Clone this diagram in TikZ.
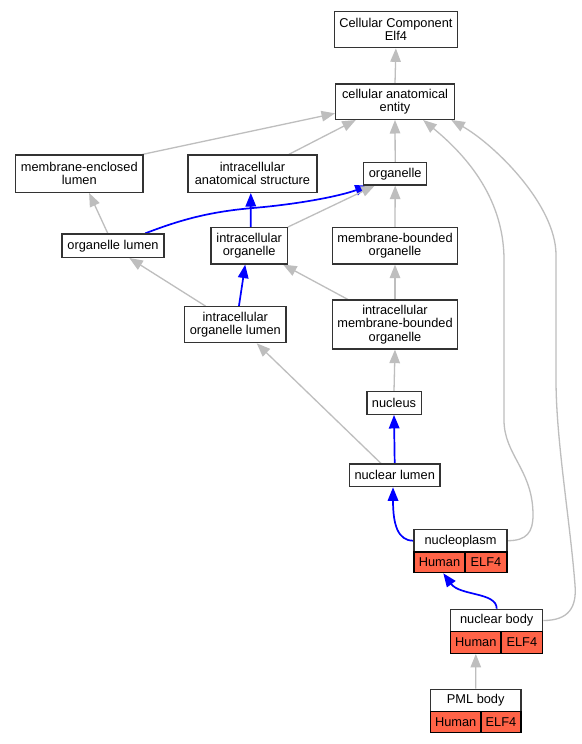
\documentclass[tikz,border=0pt]{standalone}
\usepackage{fontspec}
\setmainfont{Liberation Sans}
\usepackage{tikz}
\usetikzlibrary{arrows.meta}
\definecolor{edgegray}{RGB}{190,190,190}
\definecolor{boxline}{RGB}{51,51,51}
\definecolor{tomatored}{RGB}{255,99,71}
\tikzstyle{term}=[rectangle, draw=boxline, fill=white, line width=1.3, inner sep=0pt, align=center, font=\fontsize{12.8}{13.3}\selectfont]
\tikzstyle{cell}=[rectangle, draw=black, fill=tomatored, line width=1.3, inner sep=0pt, font=\fontsize{12.8}{13.3}\selectfont]
\tikzstyle{isa}=[-{Triangle[length=13.5pt,width=10.5pt]}, draw=edgegray, line width=1.3]
\tikzstyle{partof}=[-{Triangle[length=13.5pt,width=10.5pt]}, draw=blue, line width=1.7]
\pgfdeclarelayer{edgelayer}
\pgfdeclarelayer{nodelayer}
\pgfsetlayers{edgelayer,nodelayer,main}
\begin{document}
\begin{tikzpicture}[x=1pt, y=-1pt]
            \useasboundingbox (0, 0) rectangle (581, 744);
            \begin{pgfonlayer}{nodelayer}
                \node [style=term, minimum width=122.6, minimum height=36] (CC) at (395.9, 29.7) {Cellular Component\\Elf4};
                \node [style=term, minimum width=118.6, minimum height=35.3] (CAE) at (395, 101.7) {cellular anatomical\\entity};
                \node [style=term, minimum width=127.4, minimum height=37.3] (MEL) at (79.3, 173.7) {membrane-enclosed\\lumen};
                \node [style=term, minimum width=129, minimum height=37.3] (IAS) at (252.5, 173.7) {intracellular\\anatomical structure};
                \node [style=term, minimum width=63.2, minimum height=22.3] (ORG) at (395.2, 173.8) {organelle};
                \node [style=term, minimum width=102, minimum height=23.3] (OL) at (113, 245.7) {organelle lumen};
                \node [style=term, minimum width=76.2, minimum height=36.3] (IO) at (249.2, 245.8) {intracellular\\organelle};
                \node [style=term, minimum width=124.6, minimum height=36.3] (MBO) at (395, 245.8) {membrane-bounded\\organelle};
                \node [style=term, minimum width=101.5, minimum height=36] (IOL) at (235.3, 324.7) {intracellular\\organelle lumen};
                \node [style=term, minimum width=124.6, minimum height=49] (IMBO) at (395, 324.5) {intracellular\\membrane-bounded\\organelle};
                \node [style=term, minimum width=54.3, minimum height=22.6] (NUC) at (394, 403) {nucleus};
                \node [style=term, minimum width=90.7, minimum height=22.7] (NL) at (394.7, 475.3) {nuclear lumen};

                \node [style=term, minimum width=93, minimum height=22.7] (NP) at (460.5, 540.7) {nucleoplasm};
                \node [style=cell, minimum width=51, minimum height=20.7] (NPH) at (439.5, 562.3) {Human};
                \node [style=cell, minimum width=42, minimum height=20.7] (NPE) at (486, 562.3) {ELF4};

                \node [style=term, minimum width=92, minimum height=22.4] (NB) at (496.7, 620.5) {nuclear body};
                \node [style=cell, minimum width=50.3, minimum height=21.6] (NBH) at (475.85, 642.5) {Human};
                \node [style=cell, minimum width=41.7, minimum height=21.6] (NBE) at (521.85, 642.5) {ELF4};

                \node [style=term, minimum width=90.7, minimum height=22.4] (PML) at (475.7, 700.5) {PML body};
                \node [style=cell, minimum width=50.7, minimum height=21] (PMLH) at (455.65, 722.2) {Human};
                \node [style=cell, minimum width=40, minimum height=21] (PMLE) at (501, 722.2) {ELF4};
            \end{pgfonlayer}
            \begin{pgfonlayer}{edgelayer}
                \fill [white] (0, 0) rectangle (581, 744);
                \draw [style=isa] (CAE.north) to (CC.south);
                \draw [style=isa] (MEL.17) to (CAE.191);
                \draw [style=isa] (IAS.28) to (CAE.205);
                \draw [style=isa] (ORG.north) to (CAE.south);
                \draw [style=isa] (NP.east) .. controls (527, 540.7) and (533, 532) .. (533, 515) .. controls (533, 470) and (504, 455) .. (504, 420) -- (504, 260) .. controls (504, 195) and (462, 152) .. (CAE.-33);
                \draw [style=isa] (NB.east) .. controls (568, 620.5) and (577, 608) .. (575, 585) .. controls (570, 520) and (556, 440) .. (556, 380) -- (556, 255) .. controls (556, 205) and (495, 145) .. (CAE.-18);
                \draw [style=isa] (OL.113) to (MEL.-63);
                \draw [style=partof] (OL.21) .. controls (175, 222) and (205, 212) .. (253, 208) .. controls (300, 204) and (340, 196) .. (ORG.204);
                \draw [style=partof] (IO.85) to (IAS.-95);
                \draw [style=isa] (IO.north east) to (ORG.210);
                \draw [style=isa] (MBO.north) to (ORG.south);
                \draw [style=isa] (IOL.148) to (OL.-37);
                \draw [style=partof] (IOL.79) to (IO.-102);
                \draw [style=isa] (IMBO.152) to (IO.-29);
                \draw [style=isa] (IMBO.north) to (MBO.south);
                \draw [style=isa] (NUC.north) to (IMBO.south);
                \draw [style=isa] (NL.139) to (IOL.-41);
                \draw [style=partof] (NL.north) to (NUC.south);
                \draw [style=partof] (NP.west) .. controls (398, 540.7) and (393, 525) .. (NL.-98);
                \draw [style=partof] (NB.north) .. controls (496.7, 592) and (460, 596) .. (NPH.-71);
                \draw [style=isa] (PML.north) to (NBH.south);
            \end{pgfonlayer}
\end{tikzpicture}
\end{document}
